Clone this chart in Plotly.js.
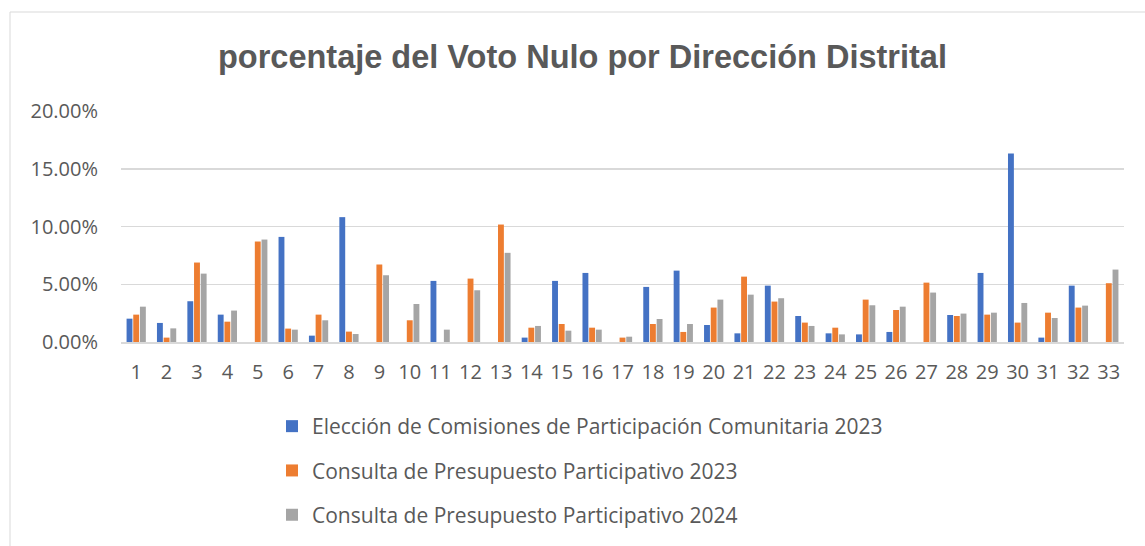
<!DOCTYPE html>
<html>
<head>
<meta charset="utf-8">
<script src="https://cdn.plot.ly/plotly-3.0.1.min.js"></script>
<style>html,body{margin:0;padding:0;background:#fff;}#chart{width:1145px;height:546px;}</style>
</head>
<body>
<div id="chart"></div>
<script>
const districts = ["1","2","3","4","5","6","7","8","9","10","11","12","13","14","15","16","17","18","19","20","21","22","23","24","25","26","27","28","29","30","31","32","33"];
const seriesNames = [
  "Elección de Comisiones de Participación Comunitaria 2023",
  "Consulta de Presupuesto Participativo 2023",
  "Consulta de Presupuesto Participativo 2024"
];
const comisiones2023 = [0.0202,0.0165,0.0353,0.0237,null,0.0910,0.0055,0.1081,null,null,0.0529,null,null,0.0038,0.0529,0.0598,null,0.0477,0.0618,0.0147,0.0075,0.0488,0.0225,0.0075,0.0066,0.0087,null,0.0234,0.0598,0.1633,0.0038,0.0488,null];
const presupuesto2023 = [0.0237,0.0038,0.0688,0.0176,0.0870,0.0116,0.0237,0.0090,0.0671,0.0188,null,0.0549,0.1017,0.0124,0.0156,0.0124,0.0038,0.0156,0.0087,0.0298,0.0566,0.0350,0.0168,0.0124,0.0367,0.0277,0.0514,0.0225,0.0237,0.0168,0.0254,0.0298,0.0509];
const presupuesto2024 = [0.0306,0.0118,0.0592,0.0272,0.0887,0.0107,0.0188,0.0069,0.0578,0.0329,0.0107,0.0448,0.0772,0.0139,0.0098,0.0107,0.0046,0.0199,0.0156,0.0367,0.0410,0.0379,0.0139,0.0066,0.0318,0.0306,0.0428,0.0246,0.0254,0.0338,0.0208,0.0315,0.0627];
const colors = ["#4472C4","#ED7D31","#A5A5A5"];
const values = [comisiones2023, presupuesto2023, presupuesto2024];

const font = "Open Sans, Noto Sans, sans-serif";
const textColor = "#595959";

const traces = values.map((v,i)=>({
  type:"bar",
  name: seriesNames[i],
  x: districts,
  y: v,
  marker:{color:colors[i]},
  legendgroup:"g"+i,
  hoverinfo:"x+y+name"
}));

const layout = {
  width:1145, height:546,
  margin:{l:121, r:21, t:111, b:204, autoexpand:false},
  paper_bgcolor:"#fff", plot_bgcolor:"#fff",
  barmode:"group",
  bargap:0.34,
  bargroupgap:0.12,
  title:{
    text:"<b>porcentaje del Voto Nulo por Dirección Distrital</b>",
    font:{family:"Liberation Sans Narrow, Arial Narrow, sans-serif", size:32.5, color:textColor},
    xref:"container", x:0.5087, xanchor:"center",
    yref:"container", y:1-57/546, yanchor:"middle"
  },
  xaxis:{
    type:"category",
    tickfont:{family:font, size:20, color:textColor},
    ticks:"outside", ticklen:11, tickcolor:"rgba(0,0,0,0)",
    showgrid:false, showline:true, linecolor:"#D9D9D9", linewidth:2,
    zeroline:false
  },
  yaxis:{
    range:[0,0.2],
    tickvals:[0,0.05,0.10,0.15,0.20],
    tickformat:".2%",
    tickfont:{family:font, size:20, color:textColor},
    ticks:"outside", ticklen:18, tickcolor:"rgba(0,0,0,0)",
    showgrid:true, gridcolor:"#D9D9D9", gridwidth:1.5,
    zeroline:false, showline:false
  },
  legend:{
    orientation:"v",
    x:(272-121)/1003, xanchor:"left",
    y:(342-406)/231, yanchor:"top",
    font:{family:font, size:21, color:textColor},
    tracegroupgap:14,
    bgcolor:"rgba(0,0,0,0)"
  },
  shapes:[{
    type:"rect", xref:"paper", yref:"paper",
    x0:(10-121)/1003, x1:1.2, y0:-2, y1:(342-12)/231,
    line:{color:"#D9D9D9", width:1}, fillcolor:"rgba(0,0,0,0)", layer:"below"
  }]
};

Plotly.newPlot("chart", traces, layout, {displayModeBar:false, staticPlot:true});
</script>
</body>
</html>
